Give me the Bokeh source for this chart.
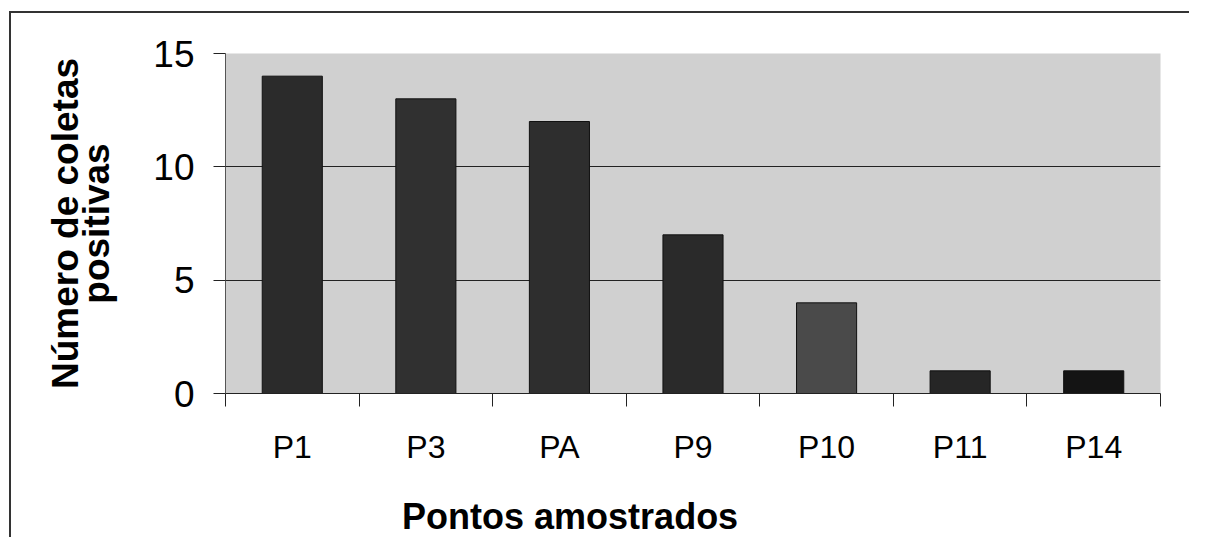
from bokeh.plotting import figure
from bokeh.models import Range1d, FixedTicker, ColumnDataSource, LinearAxis
from bokeh.embed import file_html
from bokeh.resources import INLINE

categories = ["P1", "P3", "PA", "P9", "P10", "P11", "P14"]
values = [14, 13, 12, 7, 4, 1, 1]
bar_colors = ["#2b2b2b", "#303030", "#2e2e2e", "#2a2a2a", "#4a4a4a", "#262626", "#141414"]
y_ticks = [0, 5, 10, 15]
x_title = "Pontos amostrados"
y_title = "Número de coletas\npositivas"

xs = [i + 0.5 for i in range(len(categories))]
src = ColumnDataSource(dict(x=xs, top=values, color=bar_colors))

FONT = "Liberation Sans"

p = figure(width=1180, height=526, output_backend="svg", toolbar_location=None,
           x_range=Range1d(0, len(categories)), y_range=Range1d(0, 15),
           min_border_left=214, min_border_right=31, min_border_top=40, min_border_bottom=146)
p.margin = (11, 0, 0, 9)
p.styles = {"border-left": "2px solid #333", "border-top": "2px solid #333"}

p.background_fill_color = "#d0d0d0"
p.border_fill_color = "white"
p.outline_line_color = None

p.vbar(x="x", top="top", width=0.45, source=src, fill_color="color", line_color="#111", line_width=1)

# y axis
p.yaxis.ticker = FixedTicker(ticks=y_ticks)
p.yaxis.major_tick_out = 12
p.yaxis.major_tick_in = 0
p.yaxis.minor_tick_line_color = None
p.yaxis.major_label_standoff = 19
p.yaxis.major_label_text_font = FONT
p.yaxis.major_label_text_font_size = "37px"
p.yaxis.major_label_text_color = "black"
p.yaxis.axis_line_color = "#555"
p.yaxis.major_tick_line_color = "#222"
p.yaxis.axis_label = y_title
p.yaxis.axis_label_text_font = FONT
p.yaxis.axis_label_text_font_style = "bold"
p.yaxis.axis_label_text_font_size = "37px"
p.yaxis.axis_label_text_line_height = 0.76
p.yaxis.axis_label_text_color = "black"
p.yaxis.axis_label_standoff = 33

# x axis
p.xaxis.ticker = FixedTicker(ticks=xs, minor_ticks=list(range(len(categories) + 1)))
p.xaxis.major_label_overrides = {x: c for x, c in zip(xs, categories)}
p.xaxis.major_tick_out = 0
p.xaxis.major_tick_in = 0
p.xaxis.minor_tick_out = 13
p.xaxis.minor_tick_in = 0
p.xaxis.minor_tick_line_color = "#222"
p.xaxis.axis_line_color = "#222"
p.xaxis.major_label_standoff = 22
p.xaxis.major_label_text_font = FONT
p.xaxis.major_label_text_font_size = "32px"
p.xaxis.major_label_text_color = "black"

# x-axis title, left of centre as in the original: drawn as a second (bare) axis
title_pos = 2.58
title_axis = LinearAxis(ticker=FixedTicker(ticks=[title_pos], minor_ticks=[]),
                        major_label_overrides={title_pos: x_title},
                        axis_line_color=None, major_tick_line_color=None,
                        minor_tick_line_color=None, major_tick_out=0, major_tick_in=0,
                        major_label_standoff=28, major_label_text_font=FONT,
                        major_label_text_font_style="bold", major_label_text_font_size="36px",
                        major_label_text_color="black")
p.add_layout(title_axis, "below")

# grid
p.xgrid.grid_line_color = None
p.ygrid.ticker = FixedTicker(ticks=[5, 10])
p.ygrid.grid_line_color = "#222"
p.ygrid.grid_line_width = 1

open("out.html", "w").write(file_html(p, INLINE))
